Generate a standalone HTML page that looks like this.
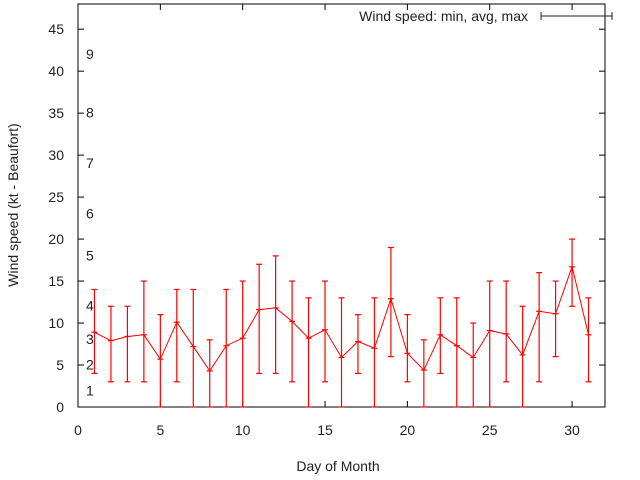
<!DOCTYPE html>
<html><head><meta charset="utf-8"><style>body{margin:0;background:#fff}svg{display:block;font-family:"Liberation Sans",sans-serif}</style></head>
<body>
<svg id="chart" width="640" height="480" xmlns="http://www.w3.org/2000/svg">
<rect width="640" height="480" fill="#fff"/>
<g id="axes"></g><g id="marks"></g>
<text x="338" y="471" font-size="14" text-anchor="middle" fill="#222">Day of Month</text>
<text transform="translate(18,205) rotate(-90)" font-size="14" text-anchor="middle" fill="#222">Wind speed (kt - Beaufort)</text>
<g>
<text x="528" y="21" font-size="14" text-anchor="end" fill="#222">Wind speed: min, avg, max</text>
<line x1="541" y1="16" x2="612" y2="16" stroke="#222"/>
<line x1="541" y1="12" x2="541" y2="20" stroke="#222"/><line x1="612" y1="12" x2="612" y2="20" stroke="#222"/>
</g>
</svg>
<script>
const days=[1,2,3,4,5,6,7,8,9,10,11,12,13,14,15,16,17,18,19,20,21,22,23,24,25,26,27,28,29,30,31];
const minVals=[4,3,3,3,0,3,0,0,0,0,4,4,3,0,3,0,4,0,6,3,0,4,0,0,0,3,0,3,6,12,3];
const avgVals=[8.9,7.9,8.4,8.6,5.7,10.1,7.2,4.3,7.3,8.2,11.6,11.8,10.2,8.2,9.2,5.9,7.8,7.0,12.9,6.4,4.4,8.6,7.3,5.9,9.1,8.7,6.2,11.4,11.1,16.7,8.6];
const maxVals=[14,12,12,15,11,14,14,8,14,15,17,18,15,13,15,13,11,13,19,11,8,13,13,10,15,15,12,16,15,20,13];
const xTicks=[0,5,10,15,20,25,30];
const yTicks=[0,5,10,15,20,25,30,35,40,45];
const beaufortLabels=["1","2","3","4","5","6","7","8","9"];
const beaufortKt=[1,4,7,11,17,22,28,34,41];
const L=78,R=605,T=4,B=407;
const sx=v=>L+(v-0)/(32-0)*(R-L);
const sy=v=>B-(v-0)/(48-0)*(B-T);
const NS="http://www.w3.org/2000/svg";
function mk(p,t,a){const e=document.createElementNS(NS,t);for(const k in a)e.setAttribute(k,a[k]);p.appendChild(e);return e;}
const ax=document.getElementById('axes'),mg=document.getElementById('marks');
const fr=mk(ax,'rect',{x:L,y:T,width:R-L,height:B-T,fill:'none',stroke:'#000'});


xTicks.forEach(v=>{const x=sx(v);
mk(ax,'line',{x1:x,y1:B,x2:x,y2:B-6,stroke:'#000'});mk(ax,'line',{x1:x,y1:T,x2:x,y2:T+6,stroke:'#000'});
const t=mk(ax,'text',{x:x,y:B+28,'font-size':14,'text-anchor':'middle',fill:'#222'});t.textContent=v;

});
yTicks.forEach(v=>{const y=sy(v);
mk(ax,'line',{x1:L,y1:y,x2:L+6,y2:y,stroke:'#000'});mk(ax,'line',{x1:R,y1:y,x2:R-6,y2:y,stroke:'#000'});
const t=mk(ax,'text',{x:L-14,y:y+5,'font-size':14,'text-anchor':'end',fill:'#222'});t.textContent=v;

});
beaufortLabels.forEach((s,i)=>{const t=mk(ax,'text',{x:86,y:sy(beaufortKt[i])-4+ (i==0?1:0),'font-size':14,fill:'#222'});t.textContent=s;

});
let pts=days.map((d,i)=>sx(d)+','+sy(avgVals[i])).join(' ');
const pl=mk(mg,'polyline',{points:pts,fill:'none',stroke:'#f00','stroke-width':1});


days.forEach((d,i)=>{const x=sx(d),g=mk(mg,'g',{stroke:'#f00','stroke-width':1.2});


mk(g,'line',{x1:x,y1:sy(minVals[i]),x2:x,y2:sy(maxVals[i])});
[minVals[i],maxVals[i],avgVals[i]].forEach(v=>mk(g,'line',{x1:x-3,y1:sy(v),x2:x+3,y2:sy(v)}));});
</script>
</body></html>
